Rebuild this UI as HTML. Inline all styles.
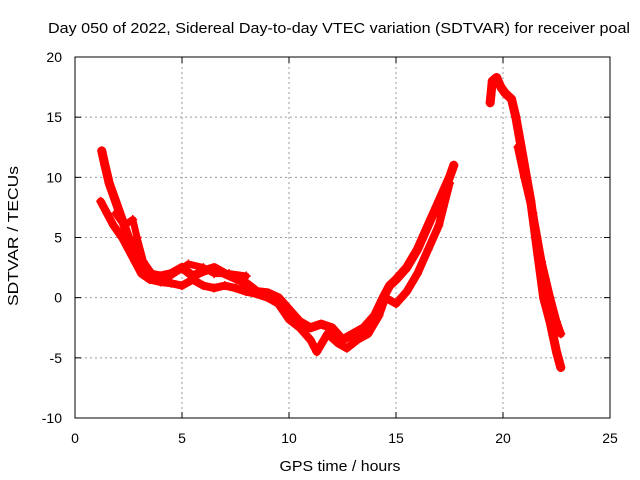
<!DOCTYPE html>
<html><head><meta charset="utf-8"><style>
body{margin:0;background:#fff}
svg{display:block;font-family:"Liberation Sans",sans-serif}
</style></head><body>
<svg id="chart" width="640" height="480" viewBox="0 0 640 480">
<text x="339" y="33" font-size="15" text-anchor="middle" textLength="582" lengthAdjust="spacingAndGlyphs">Day 050 of 2022, Sidereal Day-to-day VTEC variation (SDTVAR) for receiver poal</text>
<g id="grid"></g>
<g id="axes"></g>
<g id="series"></g>
<rect x="75" y="57" width="535" height="361" fill="none" stroke="#000" stroke-width="1"/>
<text x="340" y="471" font-size="15" text-anchor="middle" textLength="121" lengthAdjust="spacingAndGlyphs">GPS time / hours</text>
<text transform="translate(18,236) rotate(-90)" font-size="15" text-anchor="middle" textLength="140" lengthAdjust="spacingAndGlyphs">SDTVAR / TECUs</text>
</svg>
<script>
const xTicks=[0,5,10,15,20,25];
const yTicks=[-10,-5,0,5,10,15,20];
const trackAHours=[1.25,1.4,1.6,1.9,2.2,2.5,2.8,3.1,3.4,4,4.5,5,5.5,6,6.5,7,7.5,8,8.5,9,9.5,10,10.5,11,11.5,12,12.5,13,13.5,14,14.4,14.7,15,15.5,16,16.5,17,17.5,17.7];
const trackAValues=[12.2,11,9.5,8,6.5,5,3.8,2.8,2,1.8,2,2.5,1.8,2.2,2.5,2,1.6,1.2,0.5,0.4,0,-1,-2,-2.5,-2.2,-2.5,-3.5,-3,-2.5,-1.5,0,1,1.5,2.5,4,6,8,10,11];
const trackBHours=[1.2,1.5,1.8,2.2,2.5,2.8,3.1,3.5,4,4.5,5,5.5,6,6.5,7,7.5,8,8.5,9,9.5,10,10.5,11,11.3,11.8,12.3,12.7,13.2,13.7,14.2,14.5,15,15.5,16,16.5,17,17.5];
const trackBValues=[8,7,6,5,4,3,2,1.5,1.3,1.2,1,1.5,1,0.8,1,0.8,0.5,0.3,0,-0.5,-1.8,-2.5,-3.5,-4.5,-3,-3.8,-4.2,-3.5,-3,-1.5,0,-0.5,0.5,2,4,6,9.5];
const trackCHours=[1.9,2.3,2.7,2.9,3.2,3.6,4.2,5.3,6,6.5,7.2,8];
const trackCValues=[7,6,6.5,5,3,2,1.5,2.8,2.5,2,2,1.8];
const trackDHours=[19.4,19.5,19.7,19.9,20.1,20.4,20.6,20.8,21,21.3,21.6,21.9,22.2,22.5,22.7];
const trackDValues=[16.2,18,18.3,17.5,17,16.5,15,13,11,8,4,0,-2,-4.5,-5.8];
const trackEHours=[20.7,21,21.4,21.8,22.2,22.5,22.7];
const trackEValues=[12.5,10,7,3,0,-2,-3];

const X0=75,X1=610,Y0=418,Y1=57;
const sx=h=>X0+(h-0)/(25-0)*(X1-X0);
const sy=v=>Y0-(v+10)/(30)*(Y0-Y1);
const NS="http://www.w3.org/2000/svg";
const grid=document.getElementById('grid'),axes=document.getElementById('axes'),ser=document.getElementById('series');
function mk(t,a,p){const e=document.createElementNS(NS,t);for(const k in a)e.setAttribute(k,a[k]);p.appendChild(e);return e;}
xTicks.forEach(t=>{
  const x=sx(t);
  if(t>0&&t<25){const g=mk('line',{x1:x,x2:x,y1:Y1,y2:Y0,stroke:'#999','stroke-dasharray':'2,3'},grid);
  
  }
  mk('line',{x1:x,x2:x,y1:Y0,y2:Y0-6,stroke:'#000'},axes);
  mk('line',{x1:x,x2:x,y1:Y1,y2:Y1+6,stroke:'#000'},axes);
  const l=mk('text',{x:x,y:443,'font-size':14,'text-anchor':'middle'},axes);l.textContent=t;
  
  
});
yTicks.forEach(t=>{
  const y=sy(t);
  if(t>-10&&t<20){const g=mk('line',{x1:X0,x2:X1,y1:y,y2:y,stroke:'#999','stroke-dasharray':'2,3'},grid);
  
  }
  mk('line',{x1:X0,x2:X0+6,y1:y,y2:y,stroke:'#000'},axes);
  mk('line',{x1:X1,x2:X1-6,y1:y,y2:y,stroke:'#000'},axes);
  const l=mk('text',{x:62,y:y+5,'font-size':14,'text-anchor':'end'},axes);l.textContent=t;
  
  
});
function track(hs,vs,w){
  const pts=hs.map((h,i)=>sx(h)+','+sy(vs[i])).join(' ');
  const pl=mk('polyline',{points:pts,fill:'none',stroke:'#f00','stroke-width':w,'stroke-linejoin':'round','stroke-linecap':'round'},ser);
  
  
  hs.forEach((h,i)=>{
    const x=sx(h),y=sy(vs[i]);
    const m=mk('path',{d:`M${x-4.5},${y}h9M${x},${y-4.5}v9`,stroke:'#f00','stroke-width':1.5},ser);
    
    
  });
}
track(trackAHours,trackAValues,9);
track(trackBHours,trackBValues,8);
track(trackCHours,trackCValues,7);
track(trackDHours,trackDValues,9);
track(trackEHours,trackEValues,8);
</script>
</body></html>
